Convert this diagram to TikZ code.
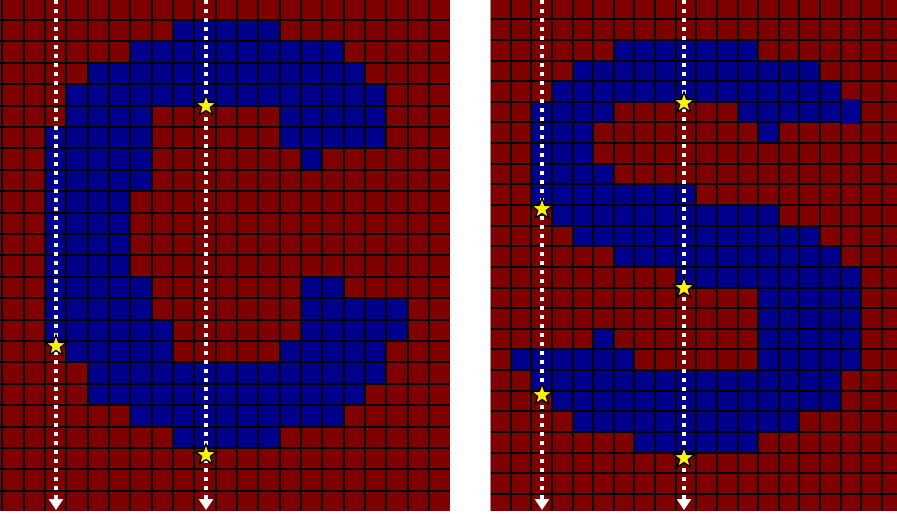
\documentclass[tikz,border=0pt]{standalone}
\usetikzlibrary{shapes.geometric,arrows.meta}
\definecolor{cellred}{RGB}{128,0,0}
\definecolor{cellblue}{RGB}{0,0,140}
\definecolor{edgegray}{RGB}{150,150,150}
\tikzset{
  gridline/.style={black,line width=2pt},
  ray/.style={white,line width=4pt,dash pattern=on 4pt off 5pt,-{Triangle[width=14pt,length=11pt]}},
  starmark/.style={star,star points=5,star point ratio=2.4,minimum size=22pt,inner sep=0pt,fill=yellow,draw=black,line width=1.3pt},
}
\newcommand\bluerow[2]{\foreach \ca/\cb in {#2}{\fill[cellblue] (\ca,#1) rectangle ({\cb+1},{#1+1});}}
\begin{document}
\begin{tikzpicture}[x=1pt,y=-1pt]
\useasboundingbox (0,0) rectangle (897,514);
\fill[white] (0,0) rectangle (897,514);
% ---------- left grid ----------
\begin{scope}
\clip (0,0) rectangle (450,511);
\fill[cellred] (0,0) rectangle (450,511);
\begin{scope}[xshift=2.3pt,yshift=1.4pt,x=21.33pt,y=-21.4pt]
\bluerow{1}{8/12}
\bluerow{2}{6/15}
\bluerow{3}{4/16}
\bluerow{4}{3/17}
\bluerow{5}{3/6,13/17}
\bluerow{6}{2/6,13/17}
\bluerow{7}{2/6,14/14}
\bluerow{8}{2/6}
\bluerow{9}{2/5}
\bluerow{10}{2/5}
\bluerow{11}{2/5}
\bluerow{12}{2/5}
\bluerow{13}{2/6,14/15}
\bluerow{14}{2/6,14/18}
\bluerow{15}{2/7,14/18}
\bluerow{16}{3/7,13/17}
\bluerow{17}{4/17}
\bluerow{18}{4/16}
\bluerow{19}{6/15}
\bluerow{20}{8/12}
\end{scope}
\foreach \gi in {0,...,20} \draw[gridline] ({2.3+21.33*\gi},0) -- ({2.3+21.33*\gi},511);
\foreach \gj in {1,...,23} \draw[gridline] (0,{-1.4+21.4*\gj}) -- (450,{-1.4+21.4*\gj});
\end{scope}
% ---------- right grid ----------
\begin{scope}
\clip (490,0) rectangle (897,511);
\fill[cellred] (490,0) rectangle (897,511);
\begin{scope}[xshift=490pt,yshift=1.3pt,x=20.63pt,y=-20.63pt]
\bluerow{2}{6/12}
\bluerow{3}{4/15}
\bluerow{4}{3/16}
\bluerow{5}{2/5,12/16}
\bluerow{6}{2/4,13/13}
\bluerow{7}{2/4}
\bluerow{8}{2/5}
\bluerow{9}{2/9}
\bluerow{10}{3/13}
\bluerow{11}{4/15}
\bluerow{12}{6/16}
\bluerow{13}{9/17}
\bluerow{14}{13/17}
\bluerow{15}{13/17}
\bluerow{16}{5/5,13/17}
\bluerow{17}{1/6,13/17}
\bluerow{18}{2/16}
\bluerow{19}{3/16}
\bluerow{20}{4/14}
\bluerow{21}{7/12}
\end{scope}
\foreach \gi in {1,...,19} \draw[gridline] ({490+20.63*\gi},0) -- ({490+20.63*\gi},511);
\foreach \gj in {1,...,24} \draw[gridline] (490,{-1.3+20.63*\gj}) -- (897,{-1.3+20.63*\gj});
\draw[edgegray,line width=1.2pt] (490,0) -- (490,511);
\fill[cellblue] (841.7,99.3) rectangle (859.5,124);
\end{scope}
% ---------- rays ----------
\coordinate (l1top) at (56,0);   \coordinate (l1bot) at (56,510);
\coordinate (l2top) at (206,0);  \coordinate (l2bot) at (206,510);
\coordinate (r1top) at (542,0);  \coordinate (r1bot) at (542,510);
\coordinate (r2top) at (684,0);  \coordinate (r2bot) at (684,510);
\draw[ray] (l1top) -- (l1bot);
\draw[ray] (l2top) -- (l2bot);
\draw[ray] (r1top) -- (r1bot);
\draw[ray] (r2top) -- (r2bot);
% ---------- stars ----------
\node[starmark] (sl1) at (56,346) {};
\node[starmark] (sl2) at (206,106) {};
\node[starmark] (sl3) at (206,455) {};
\node[starmark] (sr1) at (542,209) {};
\node[starmark] (sr2) at (684,103) {};
\node[starmark] (sr3) at (542,395) {};
\node[starmark] (sr4) at (684,288) {};
\node[starmark] (sr5) at (684,458) {};
\end{tikzpicture}
\end{document}
